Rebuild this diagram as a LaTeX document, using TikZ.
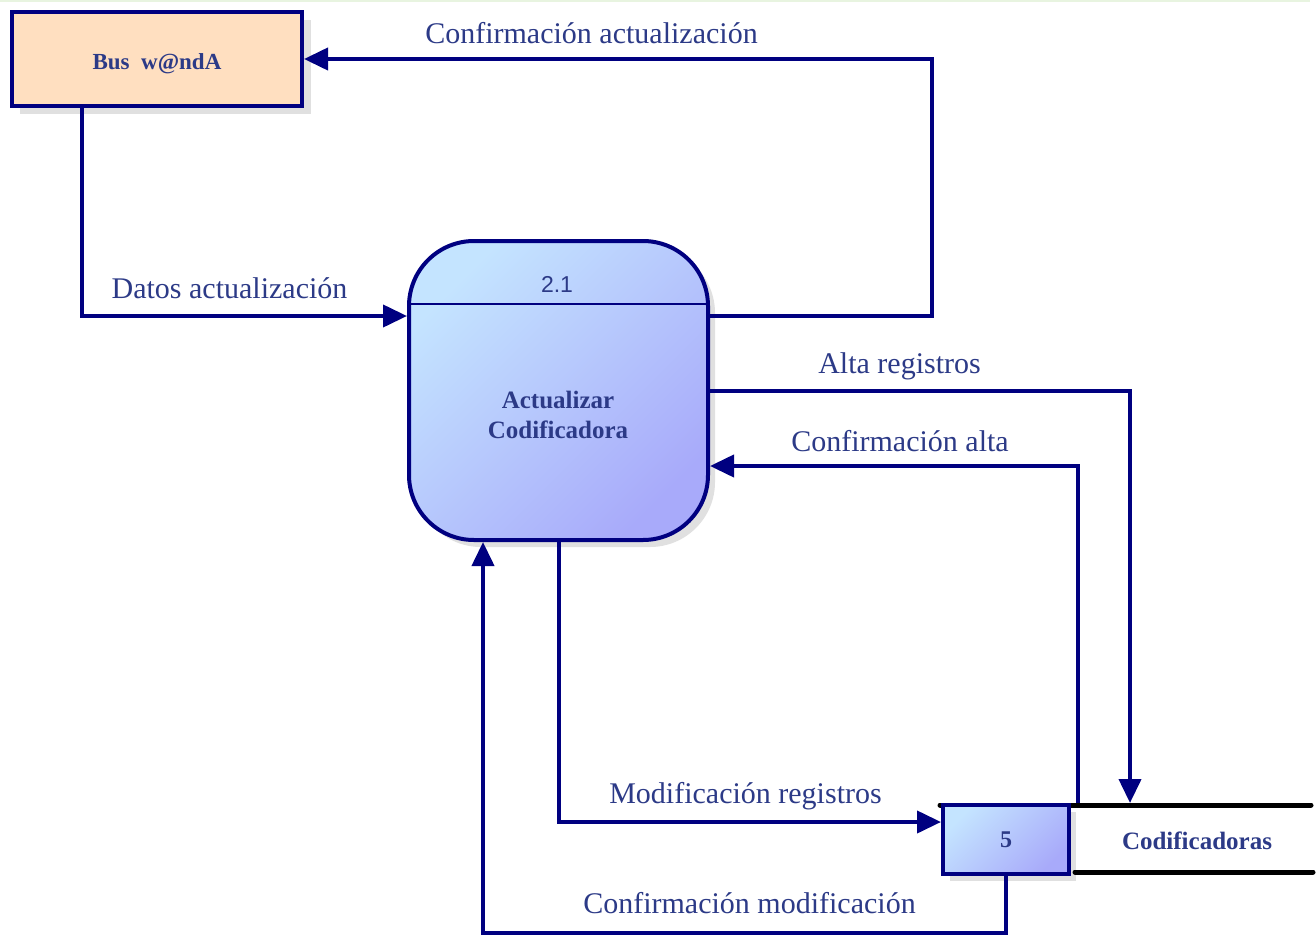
\documentclass[tikz,border=0pt]{standalone}
\usepackage{fontspec}
\setmainfont{Liberation Serif}
\newfontfamily\numfont{Liberation Sans}
\usetikzlibrary{arrows.meta}

\definecolor{navy}{RGB}{0,0,128}
\definecolor{txtblue}{RGB}{44,58,135}
\definecolor{peach}{RGB}{255,223,192}
\definecolor{lightbl}{RGB}{196,228,255}
\definecolor{deepbl}{RGB}{168,170,250}
\definecolor{shadowgray}{RGB}{224,224,224}
\definecolor{topgreen}{RGB}{232,244,224}

\tikzset{
  extbox/.style={draw=navy, line width=4pt, fill=peach, minimum width=290pt,
    minimum height=94pt, inner sep=0pt, text=txtblue,
    font=\bfseries\fontsize{23}{28}\selectfont},
  procbox/.style={draw=navy, line width=4pt, rounded corners=65pt,
    top color=lightbl, bottom color=deepbl, shading angle=45,
    minimum width=299pt, minimum height=299pt, inner sep=0pt},
  storebox/.style={draw=navy, line width=4pt, top color=lightbl,
    bottom color=deepbl, shading angle=45, minimum width=126pt,
    minimum height=69pt, inner sep=0pt, text=txtblue,
    font=\bfseries\fontsize{24}{28}\selectfont},
  boldtxt/.style={text=txtblue, align=center,
    font=\bfseries\fontsize{25}{30}\selectfont},
  flowlabel/.style={text=txtblue, font=\fontsize{30}{34}\selectfont, inner sep=0pt},
  flow/.style={draw=navy, line width=4pt,
    -{Triangle[length=24pt,width=22pt]}},
  storeline/.style={draw=black, line width=5pt, line cap=round},
}

\begin{document}
\begin{tikzpicture}[x=1pt,y=-1pt]
\useasboundingbox (0,0) rectangle (1316,939);
\fill[white] (0,0) rectangle (1316,939);
\fill[topgreen] (0,0) rectangle (1310,2.5);

% drop shadows
\fill[shadowgray] (20,20) rectangle (311,114);
\fill[shadowgray, rounded corners=65pt] (416,248) rectangle (715,547);
\fill[shadowgray] (950,812) rectangle (1076,881);

% external entity
\node[extbox] (bus) at (157,59) {\raisebox{-11pt}[0pt][0pt]{Bus\ \ w@ndA}};

% process
\node[procbox] (proc) at (558.5,390.5) {};
\draw[navy, line width=2pt] (proc.west |- 0,304) -- (proc.east |- 0,304);
\node[text=txtblue, font=\numfont\fontsize{23}{28}\selectfont] (pid) at (557,284) {2.1};
\node[boldtxt] (pname) at (558,415) {Actualizar\\Codificadora};

% data store
\draw[storeline] (940,805) -- (1311,805);
\draw[storeline] (1075,872) -- (1313,872);
\node[storebox] (store) at (1006,839.5) {5};
\node[boldtxt] (sname) at (1197,841) {Codificadoras};

% data flows
\draw[flow] ([xshift=72pt]bus.south west) |- (proc.west |- 0,316);
\draw[flow] (proc.east |- 0,316) -| ([xshift=628pt]bus.east) -- (bus.east);
\draw[flow] (proc.east) -| ([xshift=59pt]store.north east);
\draw[flow] ([xshift=7pt]store.north east) |- (proc.east |- 0,466);
\draw[flow] (proc.south) |- (store.west |- 0,822);
\draw[flow] (store.south) -- ++(0,57) -| ([xshift=-75.5pt]proc.south);

% flow labels
\node[flowlabel] (l1) at (229.5,288) {Datos actualización};
\node[flowlabel] (l2) at (591.5,33) {Confirmación actualización};
\node[flowlabel] (l3) at (899.5,366) {Alta registros};
\node[flowlabel] (l4) at (900,441) {Confirmación alta};
\node[flowlabel] (l5) at (745.5,796) {Modificación registros};
\node[flowlabel] (l6) at (749.5,903) {Confirmación modificación};
\end{tikzpicture}
\end{document}
